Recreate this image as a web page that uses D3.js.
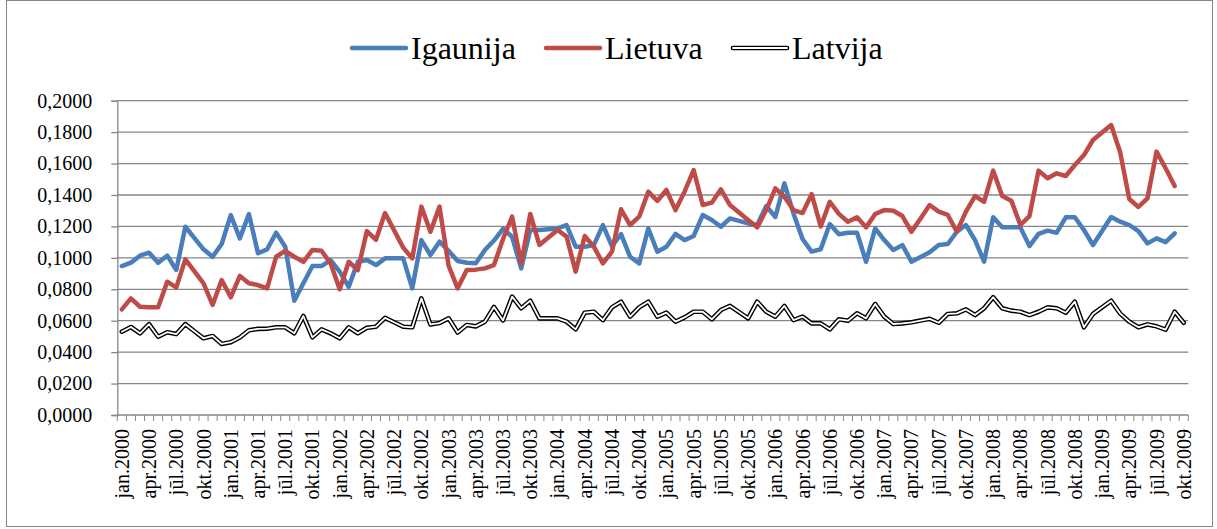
<!DOCTYPE html>
<html lang="lv">
<head>
<meta charset="UTF-8">
<title>Igaunija, Lietuva, Latvija</title>
<script src="https://d3js.org/d3.v7.min.js"></script>
<style>
  body { margin: 0; background: #fff; }
</style>
</head>
<body>
<div id="chart"></div>
<script>
// month categories, jan.2000 .. okt.2009
var monthNames = ["jan", "feb", "mar", "apr", "mai", "jūn", "jūl", "aug", "sep", "okt", "nov", "dec"];
var years = [2000, 2001, 2002, 2003, 2004, 2005, 2006, 2007, 2008, 2009];
var months = [];
years.forEach(function(yr) {
  monthNames.forEach(function(m) { months.push(m + "." + yr); });
});
months = months.slice(0, 118);

var seriesNames = ["Igaunija", "Lietuva", "Latvija"];

var igaunija = [
  0.0948, 0.0969, 0.1014, 0.1033, 0.0969, 0.1014, 0.0923, 0.1198, 0.1126, 0.1054,
  0.1007, 0.1088, 0.1272, 0.1124, 0.1279, 0.1029, 0.1054, 0.1160, 0.1071, 0.0727,
  0.0838, 0.0948, 0.0948, 0.0986, 0.0912, 0.0816, 0.0975, 0.0986, 0.0954, 0.0997,
  0.0997, 0.0997, 0.0806, 0.1113, 0.1018, 0.1103, 0.1045, 0.0980, 0.0969, 0.0965,
  0.1050, 0.1110, 0.1185, 0.1134, 0.0933, 0.1177, 0.1177, 0.1182, 0.1187, 0.1208,
  0.1071, 0.1071, 0.1081, 0.1208, 0.1075, 0.1151, 0.1007, 0.0965, 0.1187, 0.1039,
  0.1071, 0.1152, 0.1113, 0.1139, 0.1272, 0.1241, 0.1198, 0.1251, 0.1235, 0.1219,
  0.1209, 0.1330, 0.1260, 0.1474, 0.1283, 0.1120, 0.1040, 0.1055, 0.1215, 0.1150,
  0.1160, 0.1160, 0.0975, 0.1187, 0.1113, 0.1050, 0.1081, 0.0975, 0.1005, 0.1036,
  0.1082, 0.1088, 0.1166, 0.1209, 0.1113, 0.0976, 0.1258, 0.1194, 0.1194, 0.1194,
  0.1075, 0.1152, 0.1173, 0.1160, 0.1258, 0.1258, 0.1177, 0.1082, 0.1171, 0.1260,
  0.1230, 0.1209, 0.1170, 0.1092, 0.1124, 0.1100, 0.1156
];

var lietuva = [
  0.0672, 0.0742, 0.0689, 0.0685, 0.0685, 0.0848, 0.0812, 0.0990, 0.0914, 0.0838,
  0.0700, 0.0859, 0.0749, 0.0885, 0.0838, 0.0827, 0.0806, 0.1007, 0.1045, 0.1007,
  0.0975, 0.1050, 0.1045, 0.0965, 0.0800, 0.0975, 0.0922, 0.1170, 0.1115, 0.1285,
  0.1175, 0.1065, 0.0997, 0.1326, 0.1166, 0.1326, 0.0950, 0.0806, 0.0923, 0.0925,
  0.0933, 0.0954, 0.1120, 0.1262, 0.0965, 0.1279, 0.1082, 0.1130, 0.1177, 0.1135,
  0.0912, 0.1139, 0.1071, 0.0965, 0.1039, 0.1309, 0.1209, 0.1262, 0.1421, 0.1362,
  0.1432, 0.1304, 0.1421, 0.1559, 0.1336, 0.1351, 0.1436, 0.1336, 0.1288, 0.1241,
  0.1194, 0.1304, 0.1442, 0.1389, 0.1304, 0.1285, 0.1405, 0.1200, 0.1357, 0.1280,
  0.1230, 0.1258, 0.1194, 0.1279, 0.1304, 0.1300, 0.1266, 0.1166, 0.1251, 0.1336,
  0.1294, 0.1273, 0.1166, 0.1294, 0.1393, 0.1357, 0.1555, 0.1393, 0.1364, 0.1209,
  0.1266, 0.1555, 0.1506, 0.1538, 0.1521, 0.1591, 0.1654, 0.1750, 0.1798, 0.1845,
  0.1670, 0.1374, 0.1324, 0.1379, 0.1676, 0.1570, 0.1457
];

var latvija = [
  0.0530, 0.0560, 0.0520, 0.0578, 0.0498, 0.0527, 0.0515, 0.0578, 0.0533, 0.0488,
  0.0503, 0.0452, 0.0463, 0.0493, 0.0539, 0.0548, 0.0549, 0.0558, 0.0558, 0.0520,
  0.0630, 0.0494, 0.0545, 0.0520, 0.0488, 0.0558, 0.0520, 0.0555, 0.0562, 0.0618,
  0.0590, 0.0562, 0.0558, 0.0742, 0.0576, 0.0585, 0.0615, 0.0525, 0.0573, 0.0564,
  0.0594, 0.0687, 0.0602, 0.0753, 0.0679, 0.0727, 0.0615, 0.0615, 0.0615, 0.0594,
  0.0545, 0.0651, 0.0657, 0.0604, 0.0685, 0.0721, 0.0626, 0.0685, 0.0721, 0.0626,
  0.0651, 0.0594, 0.0621, 0.0657, 0.0657, 0.0609, 0.0668, 0.0694, 0.0655, 0.0615,
  0.0721, 0.0657, 0.0626, 0.0694, 0.0604, 0.0626, 0.0583, 0.0583, 0.0545, 0.0609,
  0.0600, 0.0647, 0.0615, 0.0706, 0.0626, 0.0579, 0.0583, 0.0590, 0.0601, 0.0612,
  0.0587, 0.0643, 0.0647, 0.0672, 0.0636, 0.0679, 0.0749, 0.0679, 0.0664, 0.0657,
  0.0636, 0.0657, 0.0685, 0.0679, 0.0651, 0.0721, 0.0558, 0.0643, 0.0685, 0.0727,
  0.0645, 0.0594, 0.0558, 0.0576, 0.0564, 0.0543, 0.0657, 0.0587
];

var yTicks = [0, 0.02, 0.04, 0.06, 0.08, 0.10, 0.12, 0.14, 0.16, 0.18, 0.20];
var xLabels = months.filter(function(d, i) { return i % 3 == 0; });

var W = 1217, H = 529;
var plot = {left: 117.3, right: 1188.3, top: 100.7, bottom: 415};
var gridColor = "#868686";
var serif = "'Liberation Serif', 'DejaVu Serif', serif";

var svg = d3.select("#chart")
  .append("svg")
    .attr("width", W)
    .attr("height", H)
    .attr("font-family", serif);

// outer chart border
svg.append("rect")
  .attr("x", 6.5).attr("y", 0.5)
  .attr("width", 1206).attr("height", 526)
  .attr("fill", "none")
  .attr("stroke", gridColor)
  .attr("stroke-width", 1);

var x = d3.scaleBand()
  .domain(months)
  .range([plot.left, plot.right])
  .padding(0);

var y = d3.scaleLinear()
  .domain([0, 0.2])
  .range([plot.bottom, plot.top]);

function cx(i) { return x(months[i]) + x.bandwidth() / 2; }

// gridlines
svg.append("g")
  .selectAll("line")
  .data(yTicks.slice(1))
  .enter()
  .append("line")
    .attr("x1", plot.left).attr("x2", plot.right)
    .attr("y1", function(d) { return y(d); })
    .attr("y2", function(d) { return y(d); })
    .attr("stroke", gridColor)
    .attr("stroke-width", 1.3);

// y axis
var yAxis = svg.append("g")
  .attr("transform", "translate(" + plot.left + ",0)")
  .call(d3.axisLeft(y)
    .tickValues(yTicks)
    .tickSize(6)
    .tickPadding(19)
    .tickFormat(function(d) { return d.toFixed(4).replace(".", ","); }));
yAxis.attr("font-family", serif).attr("font-size", 20);
yAxis.select(".domain").attr("stroke", gridColor).attr("stroke-width", 1.3);
yAxis.selectAll(".tick line").attr("stroke", gridColor).attr("stroke-width", 1.3);
yAxis.selectAll(".tick text")
  .attr("fill", "#000")
  .style("font-family", serif)
  .style("font-size", "20px");

// x axis line and category tick marks (on category boundaries)
svg.append("line")
  .attr("x1", plot.left).attr("x2", plot.right)
  .attr("y1", plot.bottom).attr("y2", plot.bottom)
  .attr("stroke", gridColor)
  .attr("stroke-width", 1.3);

svg.append("g")
  .selectAll("line")
  .data(months.concat(["end"]))
  .enter()
  .append("line")
    .attr("x1", function(d, i) { return i < months.length ? x(d) : plot.right; })
    .attr("x2", function(d, i) { return i < months.length ? x(d) : plot.right; })
    .attr("y1", plot.bottom)
    .attr("y2", plot.bottom + 6)
    .attr("stroke", gridColor)
    .attr("stroke-width", 1);

// x labels, rotated
svg.append("g")
  .selectAll("text")
  .data(xLabels)
  .enter()
  .append("text")
    .attr("transform", function(d) {
      return "translate(" + (x(d) + x.bandwidth() / 2) + "," + (plot.bottom + 14) + ") rotate(-90)";
    })
    .attr("text-anchor", "end")
    .attr("dy", "0.35em")
    .style("font-family", serif)
    .style("font-size", "20px")
    .text(function(d) { return d; });

// series lines
var line = d3.line()
  .x(function(d, i) { return cx(i); })
  .y(function(d) { return y(d); });

svg.append("path")
  .datum(igaunija)
  .attr("d", line)
  .attr("fill", "none")
  .attr("stroke", "#4a7ebb")
  .attr("stroke-width", 4.5)
  .attr("stroke-linejoin", "round")
  .attr("stroke-linecap", "round");

svg.append("path")
  .datum(lietuva)
  .attr("d", line)
  .attr("fill", "none")
  .attr("stroke", "#be4b48")
  .attr("stroke-width", 4.5)
  .attr("stroke-linejoin", "round")
  .attr("stroke-linecap", "round");

svg.append("path")
  .datum(latvija)
  .attr("d", line)
  .attr("fill", "none")
  .attr("stroke", "#000")
  .attr("stroke-width", 4.6)
  .attr("stroke-linejoin", "round")
  .attr("stroke-linecap", "round");

svg.append("path")
  .datum(latvija)
  .attr("d", line)
  .attr("fill", "none")
  .attr("stroke", "#fff")
  .attr("stroke-width", 1.8)
  .attr("stroke-linejoin", "round")
  .attr("stroke-linecap", "round");

// legend
var legendItems = [
  {name: seriesNames[0], color: "#4a7ebb", x0: 352},
  {name: seriesNames[1], color: "#be4b48", x0: 546},
  {name: seriesNames[2], color: "#000", x0: 733}
];
var legendY = 48;

var lg = svg.append("g");
legendItems.forEach(function(item, k) {
  lg.append("line")
    .attr("x1", item.x0).attr("x2", item.x0 + 54)
    .attr("y1", legendY).attr("y2", legendY)
    .attr("stroke", item.color)
    .attr("stroke-width", k == 2 ? 4.6 : 4.5)
    .attr("stroke-linecap", "round");
  if (k == 2) {
    lg.append("line")
      .attr("x1", item.x0).attr("x2", item.x0 + 54)
      .attr("y1", legendY).attr("y2", legendY)
      .attr("stroke", "#fff")
      .attr("stroke-width", 1.8)
      .attr("stroke-linecap", "round");
  }
  lg.append("text")
    .attr("x", item.x0 + 59)
    .attr("y", legendY + 11)
    .style("font-family", serif)
    .style("font-size", "32px")
    .text(item.name);
});
</script>
</body>
</html>
